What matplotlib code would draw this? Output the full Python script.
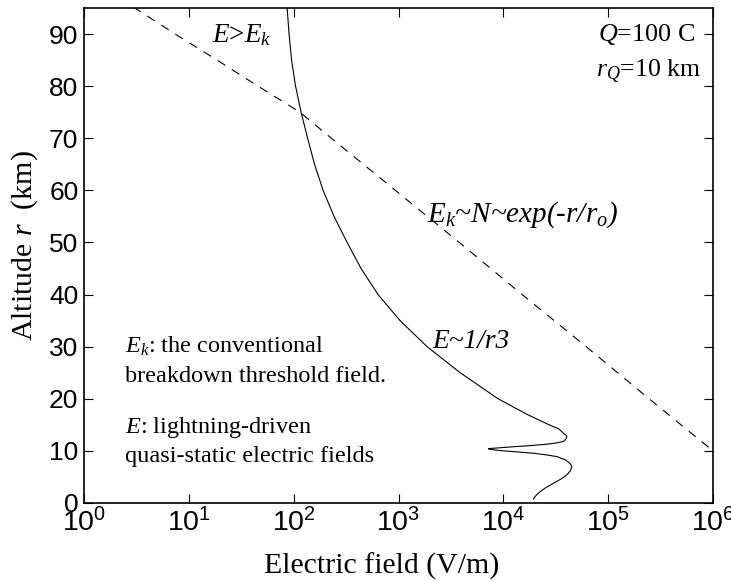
import numpy as np
import matplotlib
matplotlib.use("Agg")
import matplotlib.pyplot as plt
from matplotlib.ticker import NullLocator

plt.rcParams["font.family"] = ["Liberation Serif", "DejaVu Serif"]
plt.rcParams["mathtext.fontset"] = "custom"
plt.rcParams["mathtext.rm"] = "Liberation Sans"
plt.rcParams["mathtext.it"] = "Liberation Serif:italic"
plt.rcParams["mathtext.bf"] = "Liberation Serif:bold"

# Conventional breakdown threshold field E_k (log10 V/m) versus altitude (km)
ek_alt = [95.2, 90, 85, 80, 75, 70, 60, 50, 40, 30, 20, 10]
ek_log = [0.47, 0.87, 1.27, 1.66, 2.06, 2.36, 2.97, 3.58, 4.18, 4.79, 5.39, 6.0]

# Lightning-driven quasi-static field E (log10 V/m) versus altitude (km)
e_alt = [95.2, 90, 85, 80, 75, 70, 65, 60, 55, 50, 45, 40, 35, 30, 25, 20,
         17, 15, 14.2, 13.4, 13.0, 12.75, 12.4, 12.0, 11.8, 11.5, 11.28,
         11.0, 10.8, 10.6, 10.45, 10.4, 10.3, 10.06, 9.8, 9.55, 9.2, 8.9,
         8.3, 7.6, 6.98, 6.2, 5.38, 4.6, 3.78, 3.0, 2.17, 1.4, 0.77]
e_log = [1.937, 1.956, 1.980, 2.018, 2.071, 2.133, 2.199, 2.281, 2.385,
         2.510, 2.643, 2.805, 3.015, 3.273, 3.588, 3.950, 4.227, 4.437,
         4.53, 4.573, 4.598, 4.605, 4.600, 4.585, 4.57, 4.50, 4.415, 4.25,
         4.10, 3.97, 3.87, 3.858, 3.87, 3.97, 4.13, 4.287, 4.42, 4.51,
         4.59, 4.637, 4.653, 4.64, 4.605, 4.55, 4.478, 4.41, 4.351, 4.31,
         4.287]

x_ticks = [1e0, 1e1, 1e2, 1e3, 1e4, 1e5, 1e6]
y_ticks = [0, 10, 20, 30, 40, 50, 60, 70, 80, 90]

fig = plt.figure(figsize=(7.31, 5.81), dpi=100)
ax = fig.add_axes([0.1149, 0.1343, 0.8605, 0.8519])

ax.plot(10 ** np.array(ek_log), ek_alt, color="black", lw=0.8, dashes=(8, 7))
ax.plot(10 ** np.array(e_log), e_alt, color="black", lw=0.8)

ax.set_xscale("log")
ax.set_xlim(1e0, 1e6)
ax.set_ylim(0, 95)
ax.set_xticks(x_ticks)
ax.set_yticks(y_ticks)
ax.xaxis.set_minor_locator(NullLocator())

ax.tick_params(direction="in", length=6.5, width=0.8, top=True, right=True)
ax.tick_params(axis="x", pad=4, labelsize=20.5)
ax.tick_params(axis="y", pad=4, labelsize=19)
for lab in ax.get_xticklabels() + ax.get_yticklabels():
    lab.set_fontfamily("Liberation Sans")
for sp in ax.spines.values():
    sp.set_linewidth(1.2)

ax.set_xlabel("Electric field (V/m)", fontsize=21.5)
ax.xaxis.set_label_coords(0.474, -0.1)
ax.set_ylabel(r"Altitude $r$  (km)", fontsize=21.5)
ax.yaxis.set_label_coords(-0.070, 0.519)

fs = 17.5
ax.text(10 ** 1.22, 88.5, r"$E$>$E_k$", fontsize=19.5, va="baseline")
ax.text(10 ** 5.83, 88.7, r"$Q$=100 C", fontsize=18.8, ha="right", va="baseline")
ax.text(10 ** 5.88, 81.9, r"$r_Q$=10 km", fontsize=18.5, ha="right", va="baseline")
ax.text(10 ** 3.27, 54.0, r"$E_k$~$N$~$exp$(-$r$/$r_o$)", fontsize=21,
        va="baseline", style="italic")
ax.text(10 ** 3.32, 29.8, "E~1/r3", fontsize=19.7, va="baseline", style="italic")

x0 = 10 ** ((125 - 84) / 104.8)
ax.text(x0, (503 - 353) / 5.2, r"$E_k$: the conventional", fontsize=fs, va="baseline")
ax.text(x0, (503 - 382) / 5.2, "breakdown threshold field.", fontsize=fs, va="baseline")
ax.text(x0, (503 - 433) / 5.2, r"$E$: lightning-driven", fontsize=fs, va="baseline")
ax.text(x0, (503 - 462) / 5.2, "quasi-static electric fields", fontsize=fs, va="baseline")

fig.savefig("out.png", dpi=100)
